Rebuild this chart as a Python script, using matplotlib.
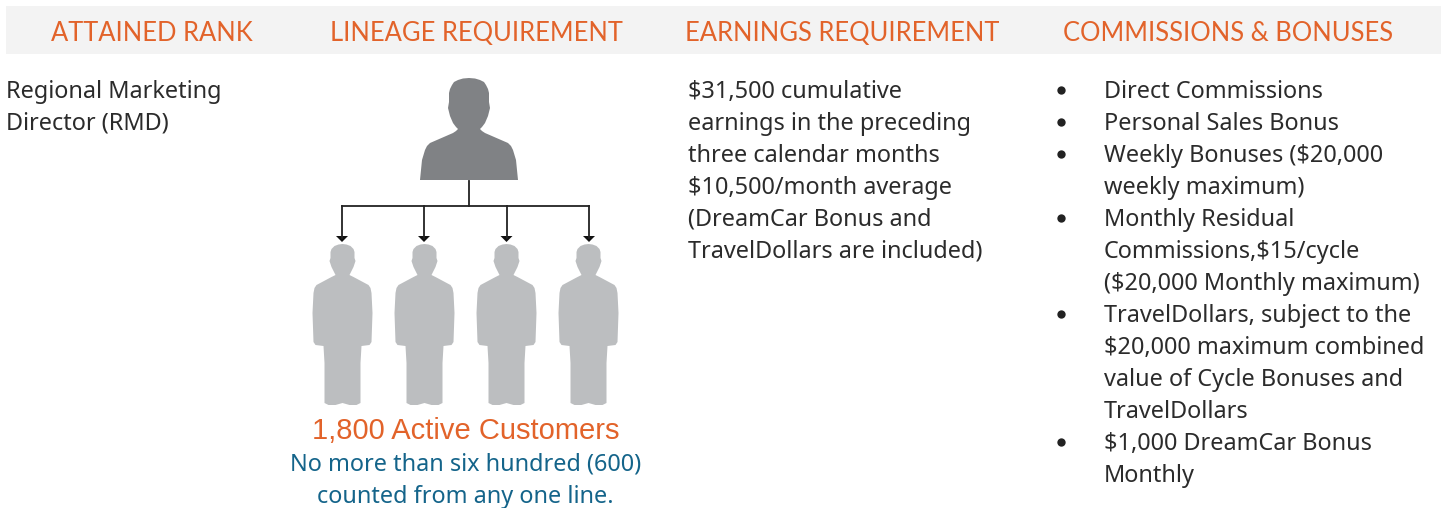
import matplotlib
matplotlib.use('Agg')
import matplotlib.pyplot as plt
from matplotlib.patches import Polygon, Rectangle

#Text
headers = ['ATTAINED RANK', 'LINEAGE REQUIREMENT', 'EARNINGS REQUIREMENT', 'COMMISSIONS & BONUSES']
header_x = [151.5, 476, 842.5, 1228]
rank_lines = ['Regional Marketing', 'Director (RMD)']
earnings_lines = ['$31,500 cumulative', 'earnings in the preceding', 'three calendar months',
                  '$10,500/month average', '(DreamCar Bonus and', 'TravelDollars are included)']
commission_lines = ['Direct Commissions', 'Personal Sales Bonus', 'Weekly Bonuses ($20,000', 'weekly maximum)',
                    'Monthly Residual', 'Commissions,$15/cycle', '($20,000 Monthly maximum)',
                    'TravelDollars, subject to the', '$20,000 maximum combined', 'value of Cycle Bonuses and',
                    'TravelDollars', '$1,000 DreamCar Bonus', 'Monthly']
bullet_rows = [0, 1, 2, 4, 7, 11]

#Silhouettes, right half only, as pixel offsets from the centre line
boss_x = [0, 6, 11, 15, 17, 19, 20, 20, 21, 20, 19, 16, 13, 11, 13, 16, 39, 42, 44, 47, 49]
boss_y = [0, 0.5, 2, 4, 7, 11, 15, 24, 30, 34, 38, 45, 49, 51, 53, 55, 65, 68, 72, 82, 102]
worker_x = [0, 4, 8, 11, 12, 12, 13, 12, 11, 7, 9, 11, 26, 28, 29, 30, 29, 27, 19, 18, 18, 14, 7, 0]
worker_y = [0, 0.5, 2, 5, 8, 14, 17, 20, 23, 31, 32, 33, 41, 44, 49, 69, 98, 101, 102, 119, 159, 161, 161, 159]
worker_centres = [342.5, 424.5, 506.5, 588.5]
arrow_x = [342, 424, 506.5, 589]

orange = '#e2632a'
teal = '#14648a'
dark = '#2b2b2b'
body = 16.9

fig = plt.figure(figsize=(14.41, 5.08), dpi=100)
ax = fig.add_axes([0, 0, 1, 1])
ax.set_xlim(0, 1441)
ax.set_ylim(508, 0)
ax.axis('off')

ax.add_patch(Rectangle((6, 6), 1435, 48, color='#f3f3f3', lw=0))
for x, h in zip(header_x, headers):
    ax.text(x, 41, h, color=orange, fontsize=18.4, family='Lato', ha='center', va='baseline')

for i, s in enumerate(rank_lines):
    ax.text(6, 97.7 + 32*i, s, color=dark, fontsize=body, family='Noto Sans', va='baseline')
for i, s in enumerate(earnings_lines):
    ax.text(687.5, 97.7 + 32*i, s, color=dark, fontsize=body, family='Noto Sans', va='baseline')
for i, s in enumerate(commission_lines):
    ax.text(1103.5, 97.7 + 32*i, s, color=dark, fontsize=body, family='Noto Sans', va='baseline')
for i in bullet_rows:
    ax.plot(1061, 90 + 32*i, 'o', color='#222222', ms=6, mew=0)

#Top person
right = [(469 + x, 78 + y) for x, y in zip(boss_x, boss_y)]
left = [(469 - x, 78 + y) for x, y in zip(boss_x, boss_y)][::-1]
ax.add_patch(Polygon(right + left, closed=True, color='#808285', lw=0))

#Connector lines
ax.plot([469, 469], [181, 205.5], color='#222222', lw=1.3)
ax.plot([arrow_x[0], arrow_x[-1]], [205.5, 205.5], color='#222222', lw=1.3)
for x in arrow_x:
    ax.plot([x, x], [205.5, 238], color='#222222', lw=1.3)
    ax.add_patch(Polygon([(x - 6, 236), (x + 6, 236), (x, 242)], closed=True, color='#111111', lw=0))

#Bottom row
for c in worker_centres:
    right = [(c + x, 244 + y) for x, y in zip(worker_x, worker_y)]
    left = [(c - x, 244 + y) for x, y in zip(worker_x, worker_y)][::-1]
    ax.add_patch(Polygon(right + left, closed=True, color='#bcbec0', lw=0))

ax.text(466, 439, '1,800 Active Customers', color=orange, fontsize=21, family='Liberation Sans', ha='center', va='baseline')
ax.text(465.5, 470.7, 'No more than six hundred (600)', color=teal, fontsize=body, family='Noto Sans', ha='center', va='baseline')
ax.text(465.5, 502.7, 'counted from any one line.', color=teal, fontsize=body, family='Noto Sans', ha='center', va='baseline')

fig.savefig('out.png', dpi=100)
